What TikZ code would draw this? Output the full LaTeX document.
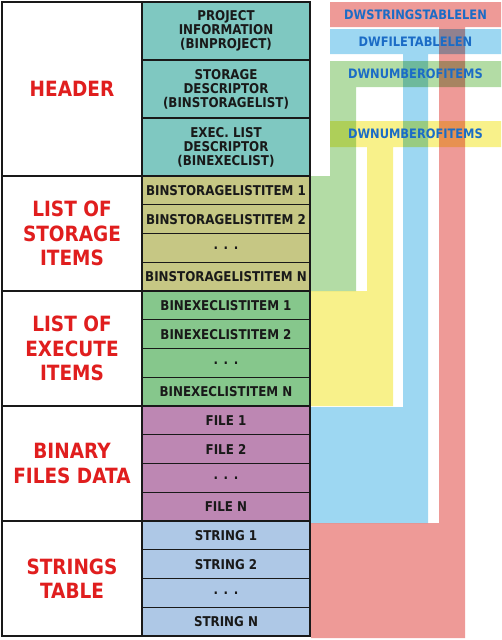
\documentclass[tikz,border=0pt]{standalone}
\usepackage{fontspec}
\setmainfont{DejaVu Sans}[FakeStretch=0.88]

\definecolor{hdrteal}{HTML}{7FC8C1}
\definecolor{stoolive}{HTML}{C6C784}
\definecolor{exegreen}{HTML}{86C78C}
\definecolor{binpurple}{HTML}{BD87B3}
\definecolor{strblue}{HTML}{AEC8E6}
\definecolor{partred}{HTML}{E01E1E}
\definecolor{tagblue}{HTML}{1B6CC6}
\definecolor{bandred}{HTML}{EE9A97}
\definecolor{bandblue}{HTML}{9DD7F2}
\definecolor{bandgreen}{HTML}{B3DCA5}
\definecolor{bandyellow}{HTML}{F8F18A}

\begin{document}
\begin{tikzpicture}[x=1pt, y=-1pt,
    cell/.style={draw=black!90, line width=1.4pt, minimum width=168pt, minimum height=28.75pt,
        inner sep=0pt, align=center, text=black!90, font=\bfseries\fontsize{13.5}{14}\selectfont},
    part/.style={draw=black!90, line width=1.4pt, fill=white, minimum width=140pt, minimum height=115pt,
        inner sep=0pt, align=center, text=partred, font=\bfseries\fontsize{21}{24.5}\selectfont},
    tag/.style={text=tagblue, font=\bfseries\fontsize{13}{13}\selectfont}]
    \useasboundingbox (0,0) rectangle (501,640);

    % size fields, drawn as bands behind the table
    \begin{scope}[blend mode=multiply]
        \fill[bandred] (330,2) -- (501,2) -- (501,27) -- (465,27) -- (465,638) -- (311,638)
            -- (311,523) -- (439,523) -- (439,27) -- (330,27) -- cycle;
        \fill[bandblue] (330,29) -- (501,29) -- (501,54) -- (428,54) -- (428,523) -- (311,523)
            -- (311,407) -- (403,407) -- (403,54) -- (330,54) -- cycle;
        \fill[bandgreen] (330,61) -- (501,61) -- (501,87) -- (356,87) -- (356,291) -- (311,291)
            -- (311,176) -- (330,176) -- cycle;
        \fill[bandyellow] (330,121) -- (501,121) -- (501,147) -- (393,147) -- (393,406) -- (311,406)
            -- (311,291) -- (367,291) -- (367,147) -- (330,147) -- cycle;
    \end{scope}
    \node[tag] (strlen) at (415.5,14.5) {DWSTRINGSTABLELEN};
    \node[tag] (filelen) at (415.5,41.5) {DWFILETABLELEN};
    \node[tag] (stonum) at (415.5,74) {DWNUMBEROFITEMS};
    \node[tag] (exenum) at (415.5,134) {DWNUMBEROFITEMS};

    % parts
    \node[part, minimum height=174pt] (header) at (72,89) {HEADER};
    \node[part] (storage) at (72,233.5) {LIST OF\\STORAGE\\ITEMS};
    \node[part] (execute) at (72,348.5) {LIST OF\\EXECUTE\\ITEMS};
    \node[part] (binary) at (72,463.5) {BINARY\\FILES DATA};
    \node[part] (strings) at (72,578.5) {STRINGS\\TABLE};

    % header
    \node[cell, fill=hdrteal, minimum height=58pt] (proj) at (226,31) {PROJECT\\INFORMATION\\(BINPROJECT)};
    \node[cell, fill=hdrteal, minimum height=58pt] (stodesc) at (226,89) {STORAGE\\DESCRIPTOR\\(BINSTORAGELIST)};
    \node[cell, fill=hdrteal, minimum height=58pt] (exedesc) at (226,147) {EXEC. LIST\\DESCRIPTOR\\(BINEXECLIST)};

    % storage items
    \node[cell, fill=stoolive] (sto1) at (226,190.375) {BINSTORAGELISTITEM 1};
    \node[cell, fill=stoolive] (sto2) at (226,219.125) {BINSTORAGELISTITEM 2};
    \node[cell, fill=stoolive] (stodots) at (226,247.875) {. . .};
    \node[cell, fill=stoolive] (ston) at (226,276.625) {BINSTORAGELISTITEM N};

    % execute items
    \node[cell, fill=exegreen] (exe1) at (226,305.375) {BINEXECLISTITEM 1};
    \node[cell, fill=exegreen] (exe2) at (226,334.125) {BINEXECLISTITEM 2};
    \node[cell, fill=exegreen] (exedots) at (226,362.875) {. . .};
    \node[cell, fill=exegreen] (exen) at (226,391.625) {BINEXECLISTITEM N};

    % files
    \node[cell, fill=binpurple] (file1) at (226,420.375) {FILE 1};
    \node[cell, fill=binpurple] (file2) at (226,449.125) {FILE 2};
    \node[cell, fill=binpurple] (filedots) at (226,477.875) {. . .};
    \node[cell, fill=binpurple] (filen) at (226,506.625) {FILE N};

    % strings
    \node[cell, fill=strblue] (str1) at (226,535.375) {STRING 1};
    \node[cell, fill=strblue] (str2) at (226,564.125) {STRING 2};
    \node[cell, fill=strblue] (strdots) at (226,592.875) {. . .};
    \node[cell, fill=strblue] (strn) at (226,621.625) {STRING N};
\end{tikzpicture}
\end{document}
